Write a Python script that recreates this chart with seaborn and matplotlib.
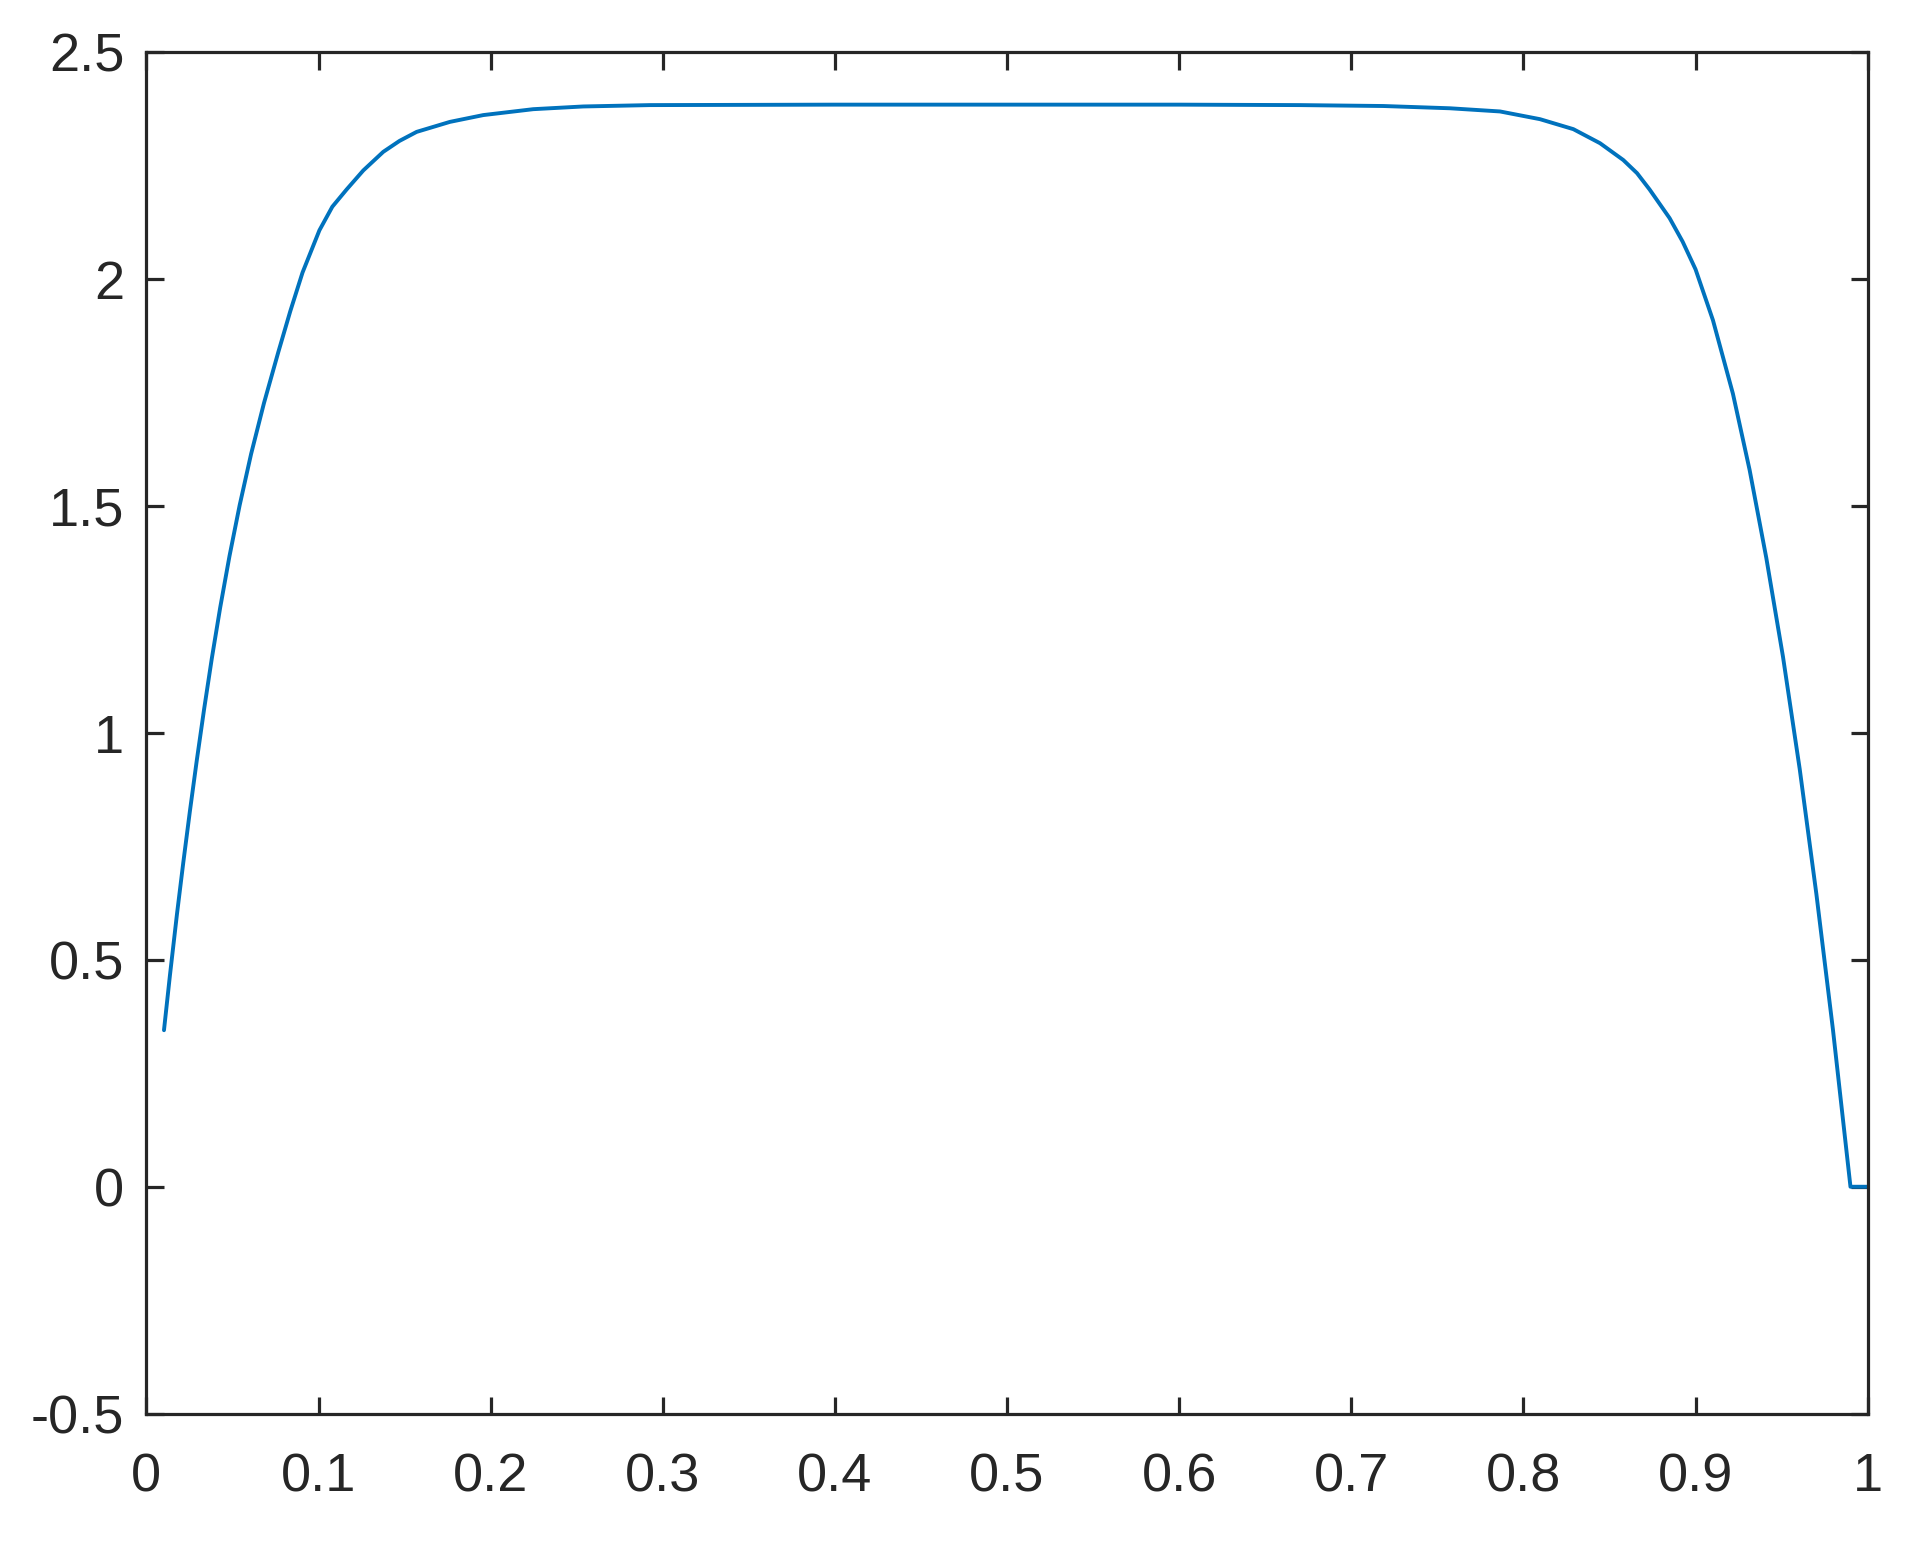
import numpy as np
import pandas as pd
import matplotlib
matplotlib.use("Agg")
import matplotlib.pyplot as plt
import seaborn as sns

# curve values
x_vals = [0.0102, 0.01366, 0.01775, 0.0214, 0.02523, 0.02923, 0.03349, 0.03797,
          0.04288, 0.04826, 0.05416, 0.06081, 0.06828, 0.07665, 0.0836, 0.0907,
          0.1005, 0.108, 0.1163, 0.126, 0.1376, 0.147, 0.157, 0.1763, 0.1957,
          0.2247, 0.2538, 0.2925, 0.4, 0.5, 0.6, 0.6702, 0.7186, 0.7573, 0.7864,
          0.8096, 0.829, 0.8445, 0.858, 0.866, 0.8733, 0.8849, 0.8925, 0.9, 0.9101,
          0.9217, 0.9314, 0.9411, 0.9508, 0.9605, 0.9702, 0.9798, 0.99, 1.0]
y_vals = [0.345, 0.466, 0.601, 0.714, 0.827, 0.939, 1.052, 1.164,
          1.277, 1.390, 1.502, 1.615, 1.727, 1.840, 1.930, 2.015,
          2.108, 2.160, 2.198, 2.240, 2.281, 2.305, 2.325, 2.347, 2.362,
          2.375, 2.381, 2.384, 2.385, 2.385, 2.385, 2.384, 2.382, 2.377, 2.370,
          2.353, 2.331, 2.300, 2.263, 2.234, 2.198, 2.135, 2.083, 2.022, 1.910,
          1.748, 1.580, 1.386, 1.168, 0.921, 0.645, 0.347, 0.0, 0.0]

x_ticks = [0, 0.1, 0.2, 0.3, 0.4, 0.5, 0.6, 0.7, 0.8, 0.9, 1]
x_labels = ["0", "0.1", "0.2", "0.3", "0.4", "0.5", "0.6", "0.7", "0.8", "0.9", "1"]
y_ticks = [-0.5, 0, 0.5, 1, 1.5, 2, 2.5]
y_labels = ["-0.5", "0", "0.5", "1", "1.5", "2", "2.5"]

df = pd.DataFrame({"x": x_vals, "y": y_vals})

sns.set_style("ticks")
plt.rcParams['font.family'] = ['Liberation Sans', 'DejaVu Sans']

fig = plt.figure(figsize=(9.57, 7.785), dpi=200)
ax = fig.add_axes([0.0765, 0.0921, 0.8993, 0.8742])

sns.lineplot(data=df, x="x", y="y", sort=False, estimator=None,
             color="#0072BD", linewidth=1.4, ax=ax)

ax.set_xlim(0, 1)
ax.set_ylim(-0.5, 2.5)
ax.set_xticks(x_ticks)
ax.set_xticklabels(x_labels)
ax.set_yticks(y_ticks)
ax.set_yticklabels(y_labels)
ax.set_xlabel("")
ax.set_ylabel("")

for s in ax.spines.values():
    s.set_visible(True)
    s.set_color("#262626")
    s.set_linewidth(1.15)

ax.tick_params(direction="in", length=6.3, width=1.15, color="#262626",
               labelcolor="#262626", labelsize=19.5, top=True, right=True)
ax.tick_params(axis="y", pad=8)
ax.tick_params(axis="x", pad=14)

fig.savefig("out.png", dpi=200, facecolor="white")
